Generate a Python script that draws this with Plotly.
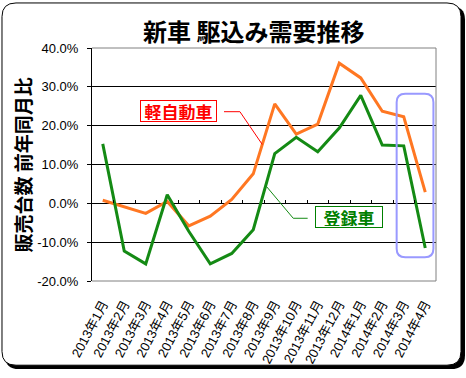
import plotly.graph_objects as go

months = ["2013年1月", "2013年2月", "2013年3月", "2013年4月", "2013年5月", "2013年6月",
          "2013年7月", "2013年8月", "2013年9月", "2013年10月", "2013年11月", "2013年12月",
          "2014年1月", "2014年2月", "2014年3月", "2014年4月"]
kei = [0.8, -1.0, -2.6, 0.5, -5.8, -3.3, 1.0, 7.6, 25.6, 17.8, 20.4, 36.1, 32.3, 23.7, 22.3, 2.9]
toroku = [15.3, -12.3, -15.6, 2.2, -7.2, -15.6, -12.9, -6.8, 12.8, 17.0, 13.3, 19.4, 27.8, 15.0, 14.8, -11.5]
y_ticks = [-20, -10, 0, 10, 20, 30, 40]
y_ticktext = [f"{v:.1f}%" for v in y_ticks]

W, H = 466, 378
L, R, T, B = 92, 30, 48, 92
PW, PH = W - L - R, H - T - B

def pxx(x):
    return (x - L) / PW

def pyy(y):
    return (H - B - y) / PH

def rrect(x0, y0, x1, y1, r):
    pts = [("M", [(x0 + r, y0)]), ("L", [(x1 - r, y0)]), ("Q", [(x1, y0), (x1, y0 + r)]),
           ("L", [(x1, y1 - r)]), ("Q", [(x1, y1), (x1 - r, y1)]), ("L", [(x0 + r, y1)]),
           ("Q", [(x0, y1), (x0, y1 - r)]), ("L", [(x0, y0 + r)]), ("Q", [(x0, y0), (x0 + r, y0)])]
    s = ""
    for cmd, ps in pts:
        s += cmd + " ".join(f"{pxx(a):.5f},{pyy(b):.5f}" for a, b in ps) + " "
    return s + "Z"

ORANGE = "#FF7722"
GREEN = "#148A14"
NUM_FONT = "Liberation Sans, Arial, Noto Sans CJK JP"
JP_FONT = "Noto Sans CJK JP"

fig = go.Figure()
fig.add_trace(go.Scatter(x=months, y=kei, mode="lines", line=dict(color=ORANGE, width=3),
                         showlegend=False, hoverinfo="skip"))
fig.add_trace(go.Scatter(x=months, y=toroku, mode="lines", line=dict(color=GREEN, width=3),
                         showlegend=False, hoverinfo="skip"))
# helper trace for the category axis drawn at the 0% line
fig.add_trace(go.Scatter(x=months, y=[None] * len(months), xaxis="x2", mode="lines",
                         showlegend=False, hoverinfo="skip"))

ymin, ymax = y_ticks[0], y_ticks[-1]
zero_pos = (0 - ymin) / (ymax - ymin)

fig.update_layout(
    width=W, height=H, autosize=False,
    margin=dict(l=L, r=R, t=T, b=B, pad=0),
    paper_bgcolor="white", plot_bgcolor="rgba(0,0,0,0)",
    xaxis=dict(type="category", categoryarray=months, range=[-0.5, len(months) - 0.5],
               showgrid=False, zeroline=False, showline=False, ticks="",
               tickangle=-62, tickfont=dict(family=NUM_FONT, size=13, color="black"),
               ticklabelstandoff=12),
    xaxis2=dict(type="category", categoryarray=months, range=[-0.5, len(months) - 0.5],
                overlaying="x", anchor="free", position=zero_pos, side="bottom",
                showgrid=False, zeroline=False, showline=False, showticklabels=False,
                ticks="inside", ticklen=3, tickcolor="black", tickson="boundaries"),
    yaxis=dict(range=[ymin, ymax], tickvals=y_ticks, ticktext=y_ticktext,
               showgrid=True, gridcolor="black", gridwidth=1, zeroline=False,
               showline=True, linecolor="black", linewidth=1,
               ticks="outside", ticklen=4, tickcolor="black",
               tickfont=dict(family=NUM_FONT, size=13, color="black"),
               ticklabelstandoff=6),
)

shapes = []
# frame shadow and frame
shapes.append(dict(type="path", xref="paper", yref="paper", path=rrect(5, 5, 465, 376, 14),
                   fillcolor="black", line=dict(color="black", width=0), layer="below"))
shapes.append(dict(type="path", xref="paper", yref="paper", path=rrect(2, 2, 461, 372, 14),
                   fillcolor="white", line=dict(color="black", width=1), layer="below"))
# gray plot-area border (top, right, bottom)
shapes.append(dict(type="path", xref="paper", yref="paper", path="M0,1 L1,1 L1,0 L0,0",
                   line=dict(color="#808080", width=1), layer="above"))
# highlight box around the last two months
n = len(months)
hx0, hx1 = n - 2 - 0.33, n - 1 + 0.38
hy1 = max(kei[-2:] + toroku[-2:]) + 5.9
hy0 = min(kei[-2:] + toroku[-2:]) - 2.4
rx, ry = 0.4, 2.2
hpath = (f"M{hx0 + rx},{hy1} L{hx1 - rx},{hy1} Q{hx1},{hy1} {hx1},{hy1 - ry} "
         f"L{hx1},{hy0 + ry} Q{hx1},{hy0} {hx1 - rx},{hy0} L{hx0 + rx},{hy0} "
         f"Q{hx0},{hy0} {hx0},{hy0 + ry} L{hx0},{hy1 - ry} Q{hx0},{hy1} {hx0 + rx},{hy1} Z")
shapes.append(dict(type="path", xref="x", yref="y", path=hpath,
                   line=dict(color="#9999FF", width=2), layer="above"))
# leader lines
k_end = 7.42
k_end_y = kei[7] + (k_end - 7) * (kei[8] - kei[7])
shapes.append(dict(type="path", xref="x", yref="y",
                   path=f"M5.64,23.6 L6.38,23.6 L{k_end},{k_end_y:.2f}",
                   line=dict(color="red", width=1), layer="above"))
t_end = 7.58
t_end_y = toroku[7] + (t_end - 7) * (toroku[8] - toroku[7])
shapes.append(dict(type="path", xref="x", yref="y",
                   path=f"M{t_end},{t_end_y:.2f} L8.86,-3.85 L9.53,-3.85",
                   line=dict(color=GREEN, width=1), layer="above"))
fig.update_layout(shapes=shapes)

ann = []
ann.append(dict(text="<b>新車 駆込み需要推移</b>", xref="paper", yref="paper",
                x=pxx(253), y=pyy(30), xanchor="center", yanchor="middle", showarrow=False,
                font=dict(family=JP_FONT, size=24, color="black")))
ann.append(dict(text="<b>販売台数 前年同月比</b>", xref="paper", yref="paper",
                x=pxx(22.5), y=pyy(167.5), xanchor="center", yanchor="middle", showarrow=False,
                textangle=-90, font=dict(family=JP_FONT, size=19, color="black")))
ann.append(dict(text="<b>軽自動車</b>", xref="x", yref="y", x=3.5, y=23.9,
                xanchor="center", yanchor="middle", showarrow=False,
                font=dict(family=JP_FONT, size=17, color="#FF0000"),
                bgcolor="white", bordercolor="#FF0000", borderwidth=1, borderpad=1,
                width=73, height=18))
ann.append(dict(text="<b>登録車</b>", xref="x", yref="y", x=11.45, y=-3.5,
                xanchor="center", yanchor="middle", showarrow=False,
                font=dict(family=JP_FONT, size=17, color="#008000"),
                bgcolor="white", bordercolor="#008000", borderwidth=1, borderpad=1,
                width=64, height=18))
fig.update_layout(annotations=ann)

fig.write_html("out.html", config={"displayModeBar": False},
               post_script="document.body.style.margin='0';document.body.style.padding='0';")
